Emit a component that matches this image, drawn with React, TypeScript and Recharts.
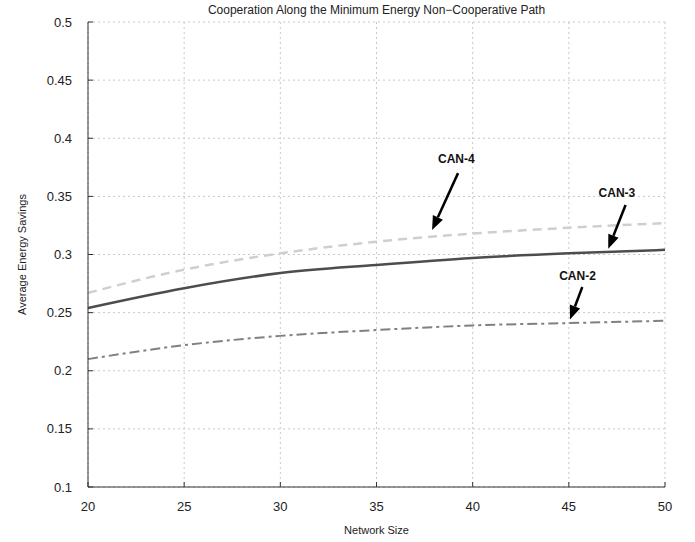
import { LineChart, Line, XAxis, YAxis, CartesianGrid, ReferenceLine, ReferenceDot } from 'recharts';

const networkSize = [20, 25, 30, 35, 40, 45, 50];
const can4 = [0.267, 0.287, 0.301, 0.311, 0.318, 0.323, 0.327];
const can3 = [0.254, 0.271, 0.284, 0.291, 0.297, 0.301, 0.304];
const can2 = [0.210, 0.222, 0.230, 0.235, 0.239, 0.241, 0.243];

const xTicks = [20, 25, 30, 35, 40, 45, 50];
const yTicks = [0.1, 0.15, 0.2, 0.25, 0.3, 0.35, 0.4, 0.45, 0.5];

// annotation arrows in data units: label position, arrow start, arrow tip
const notes = [
  { name: 'CAN-4', lx: 39.15, ly: 0.382, x1: 39.24, y1: 0.3700, x2: 37.89, y2: 0.3210 },
  { name: 'CAN-3', lx: 47.5, ly: 0.353, x1: 47.95, y1: 0.3426, x2: 47.05, y2: 0.3050 },
  { name: 'CAN-2', lx: 45.45, ly: 0.2815, x1: 45.7, y1: 0.2720, x2: 45.06, y2: 0.2440 },
];

const data = networkSize.map((n, i) => ({ n, can4: can4[i], can3: can3[i], can2: can2[i] }));

const font = '"Liberation Sans", Arial, sans-serif';

function Arrow(props: any) {
  const { x1, y1, x2, y2 } = props;
  const ang = Math.atan2(y2 - y1, x2 - x1);
  const len = 14;
  const w = 5.5;
  const bx = x2 - len * Math.cos(ang);
  const by = y2 - len * Math.sin(ang);
  const px = -Math.sin(ang) * w;
  const py = Math.cos(ang) * w;
  return (
    <g>
      <line x1={x1} y1={y1} x2={bx} y2={by} stroke="#000" strokeWidth={2.5} />
      <polygon points={`${x2},${y2} ${bx + px},${by + py} ${bx - px},${by - py}`} fill="#000" />
    </g>
  );
}

// ticks point inward, like the original
function YTick(props: any) {
  const { x, y, payload } = props;
  return (
    <g>
      <line x1={x + 16} y1={y} x2={x + 21} y2={y} stroke="#333" strokeWidth={1} />
      <text x={x} y={y} dy="0.35em" textAnchor="end" fill="#222" fontSize={13} fontFamily={font}>
        {payload.value}
      </text>
    </g>
  );
}

function XTick(props: any) {
  const { x, y, payload } = props;
  return (
    <g>
      <line x1={x} y1={y - 15} x2={x} y2={y - 20} stroke="#333" strokeWidth={1} />
      <text x={x} y={y} dy="0.71em" textAnchor="middle" fill="#222" fontSize={13} fontFamily={font}>
        {payload.value}
      </text>
    </g>
  );
}

export default function App() {
  return (
    <div style={{ position: 'absolute', left: 0, top: 0, width: 695, height: 542, background: '#fff', fontFamily: font }}>
      <div style={{ position: 'absolute', left: 88, width: 577, top: 3, textAlign: 'center', fontSize: 12, color: '#222' }}>
        Cooperation Along the Minimum Energy Non−Cooperative Path
      </div>
      <LineChart width={695} height={542} data={data} margin={{ top: 22, right: 30, bottom: 0, left: 0 }}>
        <CartesianGrid stroke="#c8c8c8" strokeDasharray="2 3" />
        <XAxis
          dataKey="n"
          type="number"
          domain={[20, 50]}
          ticks={xTicks}
          height={55}
          tickSize={0}
          tickMargin={15}
          stroke="#333"
          tick={<XTick />}
          label={{ value: 'Network Size', position: 'insideBottom', offset: 8, fill: '#222', fontSize: 11, fontFamily: font }}
        />
        <YAxis
          type="number"
          domain={[0.1, 0.5]}
          ticks={yTicks}
          width={88}
          tickSize={0}
          tickMargin={16}
          stroke="#333"
          tick={<YTick />}
          label={{ value: 'Average Energy Savings', angle: -90, position: 'insideLeft', offset: 22, fill: '#222', fontSize: 11, fontFamily: font, style: { textAnchor: 'middle' } }}
        />
        <Line type="monotone" dataKey="can4" stroke="#cfcfcf" strokeWidth={2.5} strokeDasharray="9 6" dot={false} isAnimationActive={false} />
        <Line type="monotone" dataKey="can3" stroke="#4d4d4d" strokeWidth={2.5} dot={false} isAnimationActive={false} />
        <Line type="monotone" dataKey="can2" stroke="#808080" strokeWidth={2} strokeDasharray="10 4 3 4" dot={false} isAnimationActive={false} />
        {notes.map((a) => (
          <ReferenceLine key={a.name + 'l'} segment={[{ x: a.x1, y: a.y1 }, { x: a.x2, y: a.y2 }]} shape={<Arrow />} />
        ))}
        {notes.map((a) => (
          <ReferenceDot
            key={a.name + 'd'}
            x={a.lx}
            y={a.ly}
            r={0}
            fill="none"
            stroke="none"
            label={{ value: a.name, position: 'center', fill: '#111', fontSize: 12, fontWeight: 'bold', fontFamily: font }}
          />
        ))}
      </LineChart>
    </div>
  );
}
